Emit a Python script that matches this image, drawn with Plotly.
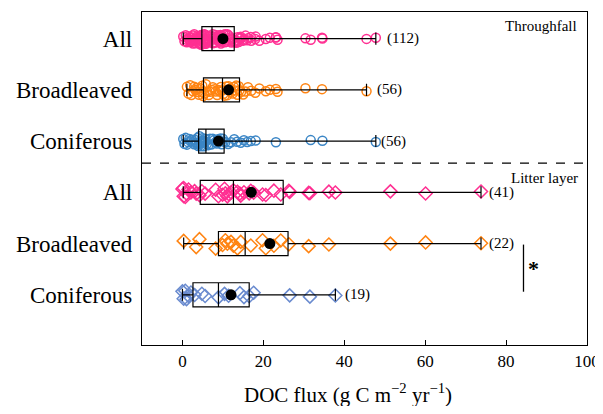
import plotly.graph_objects as go

# ---------------- data ----------------
group_labels = ["Coniferous", "Broadleaved", "All", "Coniferous", "Broadleaved", "All"]
group_pos = [1, 2, 3, 4, 5, 6]

tf_broad = [1.1, 1.5, 1.9, 2.2, 2.6, 2.9, 3.2, 3.5, 3.8, 4.1, 4.4, 4.7, 4.9, 5.1,
            5.4, 5.8, 6.1, 6.5, 6.8, 7.2, 7.5, 7.9, 8.2, 8.6, 8.9, 9.2, 9.5, 9.8,
            10.1, 10.4, 10.8, 11.1, 11.4, 11.8, 12.1, 12.4, 12.7, 13.0, 13.3, 13.6, 13.9, 14.1,
            14.5, 15.0, 15.6, 16.2, 17.0, 18.0, 19.0, 20.6, 21.6, 23.1, 23.5, 30.4, 34.5, 45.5]
tf_conif = [0.2, 0.5, 0.8, 1.1, 1.4, 1.7, 2.0, 2.3, 2.6, 2.9, 3.2, 3.4, 3.7, 3.9,
            4.1, 4.2, 4.3, 4.5, 4.6, 4.8, 4.9, 5.0, 5.1, 5.3, 5.4, 5.5, 5.6, 5.7,
            6.0, 6.4, 6.8, 7.1, 7.5, 7.8, 8.2, 8.5, 8.8, 9.1, 9.4, 9.7, 10.0, 10.2,
            10.6, 11.3, 12.0, 12.8, 13.5, 14.4, 15.2, 16.0, 16.9, 18.1, 23.1, 31.7, 34.6, 47.8]
tf_all = tf_broad + tf_conif

ll_broad = [0.3, 3.4, 4.2, 8.2, 9.9, 10.6, 11.1, 12.0, 12.6, 13.6, 14.4, 16.9, 19.8, 20.6,
            22.6, 24.3, 26.3, 31.2, 36.2, 51.4, 60.1, 73.8]
ll_conif = [0.0, 0.3, 0.7, 1.0, 1.5, 2.1, 3.0, 4.8, 5.6, 8.9, 10.4, 11.4, 14.2, 15.2,
            16.5, 17.6, 26.5, 31.5, 37.8]
ll_all = ll_broad + ll_conif

# box statistics (order: LL conif, LL broad, LL all, TF conif, TF broad, TF all)
stat_min = [0.0, 0.3, 0.2, 0.2, 1.1, 0.2]
stat_q1 = [2.6, 8.9, 4.4, 4.0, 5.2, 4.8]
stat_median = [8.9, 15.5, 12.6, 5.8, 9.9, 7.3]
stat_q3 = [16.5, 26.1, 24.9, 10.3, 14.1, 12.8]
stat_max = [37.8, 73.8, 73.8, 47.8, 45.5, 47.8]
stat_mean = [12.0, 21.6, 17.0, 8.9, 11.4, 10.0]
counts = ["(19)", "(22)", "(41)", "(56)", "(56)", "(112)"]

PINK = "#FF2F92"
ORANGE = "#FF8412"
BLUE = "#3B86C6"
PERI = "#6A8BCF"

point_sets = [
    (ll_conif, 1, PERI, "diamond-open", 10),
    (ll_broad, 2, ORANGE, "diamond-open", 10),
    (ll_all, 3, PINK, "diamond-open", 10),
    (tf_conif, 4, BLUE, "circle-open", 9),
    (tf_broad, 5, ORANGE, "circle-open", 9),
    (tf_all, 6, PINK, "circle-open", 9),
]

fig = go.Figure()

for vals, pos, col, sym, sz in point_sets:
    fig.add_trace(go.Box(
        x=vals, y0=pos, orientation="h", boxpoints="all", jitter=0.55, pointpos=0,
        width=0.47, fillcolor="rgba(0,0,0,0)", line=dict(width=0, color="rgba(0,0,0,0)"),
        marker=dict(symbol=sym, size=sz, color=col, line=dict(width=1.5, color=col)),
        hoverinfo="skip", showlegend=False,
    ))

for i, pos in enumerate(group_pos):
    fig.add_trace(go.Box(
        y=[pos], orientation="h",
        q1=[stat_q1[i]], median=[stat_median[i]], q3=[stat_q3[i]],
        lowerfence=[stat_min[i]], upperfence=[stat_max[i]],
        boxpoints=False, width=0.47, whiskerwidth=0.5,
        fillcolor="rgba(0,0,0,0)", line=dict(color="black", width=1.2),
        showlegend=False,
    ))

fig.add_trace(go.Scatter(
    x=stat_mean, y=group_pos, mode="markers",
    marker=dict(color="black", size=11), showlegend=False,
))

# count labels
count_offsets = [1.8, 1.6, 1.6, 0.8, 2.2, 2.3]
for i, pos in enumerate(group_pos):
    fig.add_annotation(x=stat_max[i] + count_offsets[i], y=pos, text=counts[i],
                       showarrow=False, xanchor="left", yanchor="middle",
                       font=dict(size=15, color="black"))

fig.add_annotation(xref="paper", x=0.982, y=6.24, text="Throughfall", showarrow=False,
                   xanchor="right", yanchor="middle", font=dict(size=15, color="black"))
fig.add_annotation(xref="paper", x=0.985, y=3.285, text="Litter layer", showarrow=False,
                   xanchor="right", yanchor="middle", font=dict(size=15, color="black"))

# x axis title (slightly left of centre, as in the reference)
fig.add_annotation(xref="paper", yref="paper", x=0.463, y=-0.145,
                   text="DOC flux (g C m<sup>−2</sup> yr<sup>−1</sup>)", showarrow=False,
                   xanchor="center", yanchor="middle", font=dict(size=21, color="black"))

# separator and significance bar
fig.add_shape(type="line", xref="paper", x0=0, x1=1, y0=3.57, y1=3.57,
              line=dict(color="black", width=1.3, dash="dash"))
fig.add_shape(type="line", x0=84.3, x1=84.3, y0=1.06, y1=1.98,
              line=dict(color="black", width=1.3))
fig.add_annotation(x=85.0, y=1.52, text="<b>*</b>", showarrow=False, xanchor="left",
                   yanchor="middle", font=dict(size=22, color="black"))

fig.update_layout(
    width=587, height=398,
    margin=dict(l=134, r=8, t=4, b=61, autoexpand=False),
    plot_bgcolor="white", paper_bgcolor="white",
    boxmode="overlay", showlegend=False,
    font=dict(family="Liberation Serif", color="black"),
)
fig.update_xaxes(
    range=[-10, 100], tickvals=[0, 20, 40, 60, 80, 100],
    ticks="inside", ticklen=5, tickcolor="black", tickwidth=1.2,
    showline=True, mirror=True, linecolor="black", linewidth=1.4,
    showgrid=False, zeroline=False, tickfont=dict(size=17),
    ticklabeloverflow="allow", automargin=False,
)
fig.update_yaxes(
    range=[0.02, 6.52], tickvals=group_pos, ticktext=group_labels,
    ticks="", showline=True, mirror=True, linecolor="black", linewidth=1.4,
    showgrid=False, zeroline=False, tickfont=dict(size=23), ticklabelstandoff=4,
    automargin=False,
)

fig.write_html("out.html")
